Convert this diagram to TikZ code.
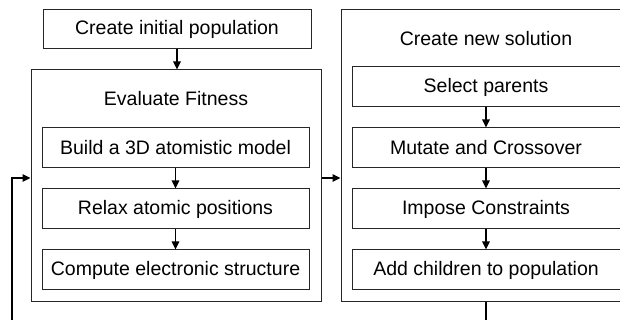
\documentclass[tikz,border=0pt]{standalone}
\usepackage{fontspec}
\setmainfont{Liberation Sans}
\usetikzlibrary{positioning, arrows.meta}

\tikzset{
    box/.style={draw=black!85, line width=1pt, minimum height=40pt, inner sep=0pt},
    frame/.style={draw=black!85, line width=1pt, inner sep=0pt},
    flow/.style={draw=black, line width=1.1pt, -{Triangle[length=8pt, width=7.5pt]}}
}

\begin{document}
\begin{tikzpicture}[x=1pt, y=1pt, font=\fontsize{19.5}{23}\selectfont]
    \useasboundingbox (0,0) rectangle (620,320);
    \clip (0,0) rectangle (620,320);
    % Start
    \node[box, minimum width=268pt, minimum height=39pt] (init) at (177,290.5) {Create initial population};
    
    % Fitness block
    \node[frame, minimum width=290pt, minimum height=232pt] (eval) at (176,134) {};
    \node (evaltitle) at (176,221) {Evaluate Fitness};
    \node[box, minimum width=267pt] (build) at (175.5,172) {Build a 3D atomistic model};
    \node[box, minimum width=267pt, below=20pt of build] (relax) {Relax atomic positions};
    \node[box, minimum width=267pt, below=20pt of relax] (compute) {Compute electronic structure};
    
    % New solution block (runs past the right edge)
    \node[frame, minimum width=290pt, minimum height=292pt] (sol) at (486,164) {};
    \node (soltitle) at (486,281) {Create new solution};
    \node[box, minimum width=268pt] (select) at (486,233) {Select parents};
    \node[box, minimum width=268pt, below=20pt of select] (mutate) {Mutate and Crossover};
    \node[box, minimum width=268pt, below=20pt of mutate] (impose) {Impose Constraints};
    \node[box, minimum width=268pt, below=20pt of impose] (add) {Add children to population};
    
    % Steps
    \foreach \a/\b in {init/eval, build/relax, relax/compute, select/mutate, mutate/impose, impose/add}
        \draw[flow] (\a.south) -- (\a.south |- \b.north);
    
    % Hand over and loop back
    \coordinate (loopy) at (0,142);
    \coordinate (back) at (12,-10);
    \draw[flow] (eval.east |- loopy) -- (sol.west |- loopy);
    \draw[flow] (add.south |- sol.south) -- (add.south |- back) -- (back) |- (eval.west |- loopy);
\end{tikzpicture}
\end{document}
